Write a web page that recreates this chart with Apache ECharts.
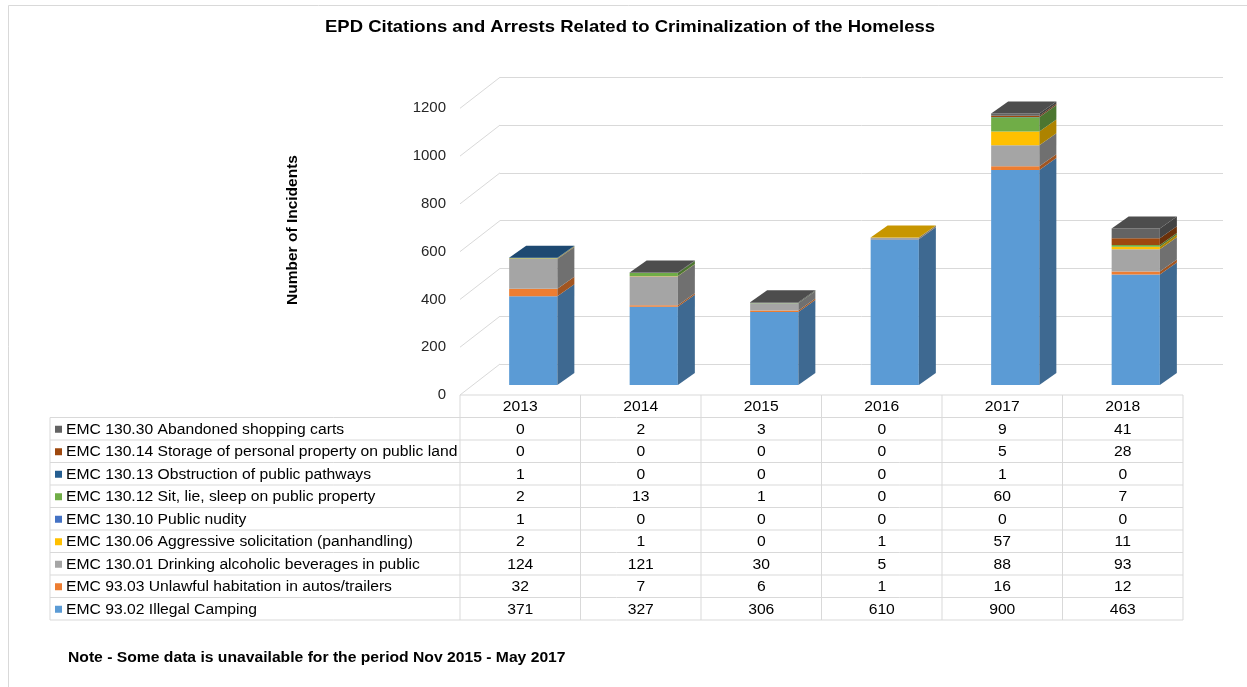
<!DOCTYPE html>
<html>
<head>
<meta charset="utf-8">
<script src="https://cdn.jsdelivr.net/npm/echarts@6/dist/echarts.min.js"></script>
<style>
  html, body { margin: 0; padding: 0; background: #fff; }
  #main { width: 1247px; height: 687px; }
</style>
</head>
<body>
<div id="main"></div>
<script>
// categories (years)
var years = ['2013', '2014', '2015', '2016', '2017', '2018'];

// series values, bottom of the stack first
var camping     = [371, 327, 306, 610, 900, 463];
var unlawful    = [32, 7, 6, 1, 16, 12];
var drinking    = [124, 121, 30, 5, 88, 93];
var aggressive  = [2, 1, 0, 1, 57, 11];
var nudity      = [1, 0, 0, 0, 0, 0];
var sitLie      = [2, 13, 1, 0, 60, 7];
var obstruction = [1, 0, 0, 0, 1, 0];
var storage     = [0, 0, 0, 0, 5, 28];
var carts       = [0, 2, 3, 0, 9, 41];

var seriesNames = [
    'EMC 93.02 Illegal Camping',
    'EMC 93.03 Unlawful habitation in autos/trailers',
    'EMC 130.01 Drinking alcoholic beverages in public',
    'EMC 130.06 Aggressive solicitation (panhandling)',
    'EMC 130.10 Public nudity',
    'EMC 130.12 Sit, lie, sleep on public property',
    'EMC 130.13 Obstruction of public pathways',
    'EMC 130.14 Storage of personal property on public land',
    'EMC 130.30 Abandoned shopping carts'
];
var seriesValues = [camping, unlawful, drinking, aggressive, nudity, sitLie, obstruction, storage, carts];

// y axis ticks
var yTicks = [0, 200, 400, 600, 800, 1000, 1200];

// colours (same order as the series)
var colors = ['#5B9BD5', '#ED7D31', '#A5A5A5', '#FFC000', '#4472C4', '#70AD47', '#255E91', '#9E480E', '#636363'];

function shade(hex, f) {
    var n = parseInt(hex.slice(1), 16);
    var r = Math.round(((n >> 16) & 255) * f);
    var g = Math.round(((n >> 8) & 255) * f);
    var b = Math.round((n & 255) * f);
    return 'rgb(' + r + ',' + g + ',' + b + ')';
}

// 3d look
var DEPTH_X = 40, DEPTH_Y = 31;         // depth of the plot box
var BAR_SHIFT_X = 13, BAR_SHIFT_Y = 10; // bar front sits a bit back
var BAR_DX = 17, BAR_DY = 12;           // bar depth
var BAR_RATIO = 0.4;

// grid geometry
var GRID_LEFT = 460, GRID_WIDTH = 723, GRID_TOP = 108.3, GRID_HEIGHT = 286.7;

// text in the picture is a little stretched sideways
var STRETCH = 1.12;

// topmost non-zero series for each year (its top face is visible)
var topIndex = years.map(function (y, i) {
    var t = 0;
    seriesValues.forEach(function (vals, s) { if (vals[i] > 0) t = s; });
    return t;
});

// build stacked segments
var running = years.map(function () { return 0; });
var barSeries = seriesValues.map(function (vals, s) {
    var data = [];
    vals.forEach(function (v, i) {
        var lo = running[i];
        running[i] += v;
        if (v > 0) data.push([i, lo, lo + v, topIndex[i] === s ? 1 : 0]);
    });
    var front = colors[s], side = shade(colors[s], 0.68), top = shade(colors[s], 0.78);
    return {
        name: seriesNames[s],
        type: 'custom',
        xAxisIndex: 0,
        yAxisIndex: 0,
        z: 5,
        silent: true,
        encode: { x: 0, y: [1, 2] },
        data: data,
        renderItem: function (params, api) {
            var i = api.value(0);
            var a = api.coord([i, api.value(1)]);
            var b = api.coord([i, api.value(2)]);
            var band = api.size([1, 0])[0];
            var w = band * BAR_RATIO;
            var cx = a[0] + BAR_SHIFT_X;
            var xl = cx - w / 2, xr = cx + w / 2;
            var yb = a[1] - BAR_SHIFT_Y, yt = b[1] - BAR_SHIFT_Y;
            var children = [
                { type: 'rect', shape: { x: xl, y: yt, width: w, height: yb - yt }, style: { fill: front } },
                { type: 'polygon', shape: { points: [[xr, yt], [xr + BAR_DX, yt - BAR_DY], [xr + BAR_DX, yb - BAR_DY], [xr, yb]] }, style: { fill: side } }
            ];
            if (api.value(3) === 1) {
                children.push({ type: 'polygon', shape: { points: [[xl, yt], [xl + BAR_DX, yt - BAR_DY], [xr + BAR_DX, yt - BAR_DY], [xr, yt]] }, style: { fill: top } });
            }
            return { type: 'group', children: children };
        }
    };
});

// diagonal lines of the left side wall
var wallSeries = {
    type: 'custom',
    xAxisIndex: 0,
    yAxisIndex: 0,
    z: 1,
    silent: true,
    encode: { x: 0, y: 1 },
    data: yTicks.map(function (v) { return [0, v]; }),
    renderItem: function (params, api) {
        var p = api.coord([0, api.value(1)]);
        var left = p[0] - api.size([1, 0])[0] / 2;
        return {
            type: 'line',
            shape: { x1: left, y1: p[1], x2: left + DEPTH_X, y2: p[1] - DEPTH_Y },
            style: { stroke: '#d9d9d9', lineWidth: 1 }
        };
    }
};

var chart = echarts.init(document.getElementById('main'));
var font = '"Liberation Sans", Arial, sans-serif';

chart.setOption({
    animation: false,
    backgroundColor: '#fff',
    textStyle: { fontFamily: font },
    grid: [
        { left: GRID_LEFT, top: GRID_TOP, width: GRID_WIDTH, height: GRID_HEIGHT, outerBoundsMode: 'none' },
        { left: GRID_LEFT + DEPTH_X, top: GRID_TOP - DEPTH_Y, width: GRID_WIDTH, height: GRID_HEIGHT, outerBoundsMode: 'none' }
    ],
    xAxis: [
        { type: 'category', gridIndex: 0, data: years, show: false },
        { type: 'category', gridIndex: 1, data: years, show: false }
    ],
    yAxis: [
        {
            type: 'value', gridIndex: 0, min: 0, max: 1200, interval: 200,
            axisLine: { show: false },
            axisTick: { show: false },
            splitLine: { show: false },
            axisLabel: {
                margin: 14, fontSize: 15, color: '#262626', fontFamily: font,
                formatter: function (v) { return String(v); }
            }
        },
        {
            type: 'value', gridIndex: 1, min: 0, max: 1200, interval: 200,
            axisLine: { show: false },
            axisTick: { show: false },
            axisLabel: { show: false },
            splitLine: { show: true, lineStyle: { color: '#d9d9d9', width: 1 } }
        }
    ],
    series: [wallSeries].concat(barSeries)
});

// data table under the chart, columns follow the category axis
var xs = years.map(function (y, i) { return chart.convertToPixel({ xAxisIndex: 0 }, i); });
var band = xs[1] - xs[0];
var TABLE_LEFT = 50, HEADER_TOP = 395, ROW_H = 22.5;
var labelRight = xs[0] - band / 2;
var tableRight = xs[xs.length - 1] + band / 2;
var rowsTop = HEADER_TOP + ROW_H;
var nRows = seriesValues.length;
var tableBottom = rowsTop + nRows * ROW_H;
var lineStyle = { stroke: '#d9d9d9', lineWidth: 1 };

var g = [];
function hline(x1, x2, y) {
    g.push({ type: 'line', silent: true, shape: { x1: x1, y1: y, x2: x2, y2: y }, style: lineStyle });
}
function vline(x, y1, y2) {
    g.push({ type: 'line', silent: true, shape: { x1: x, y1: y1, x2: x, y2: y2 }, style: lineStyle });
}
function text(str, x, y, f, align, rot) {
    g.push({ type: 'text', silent: true, x: x, y: y, scaleX: rot ? 1 : STRETCH, rotation: rot || 0,
        style: { text: str, fill: '#000', font: f, textAlign: align || 'left', textVerticalAlign: 'middle' } });
}

// outer chart-area border
g.push({ type: 'rect', silent: true, shape: { x: 8.5, y: 5.5, width: 1300, height: 800 }, style: { fill: 'none', stroke: '#d9d9d9', lineWidth: 1 } });

// title and axis name
text('EPD Citations and Arrests Related to Criminalization of the Homeless', 630, 27, 'bold 16.5px ' + font, 'center');
text('Number of Incidents', 293, 230, 'bold 15.5px ' + font, 'center', Math.PI / 2);

hline(labelRight, tableRight, HEADER_TOP);
for (var r = 0; r <= nRows; r++) hline(TABLE_LEFT, tableRight, rowsTop + r * ROW_H);
vline(TABLE_LEFT, rowsTop, tableBottom);
for (var c = 0; c <= years.length; c++) vline(labelRight + c * band, HEADER_TOP, tableBottom);

years.forEach(function (y, i) {
    text(y, xs[i], HEADER_TOP + ROW_H / 2 + 1, '14px ' + font, 'center');
});

// rows: top row is the last series in the stack
for (var k = 0; k < nRows; k++) {
    var s = nRows - 1 - k;
    var cy = rowsTop + k * ROW_H + ROW_H / 2 + 1;
    g.push({ type: 'rect', silent: true, shape: { x: 55, y: cy - 4, width: 7, height: 7 }, style: { fill: colors[s] } });
    text(seriesNames[s], 66, cy, '14px ' + font, 'left');
    seriesValues[s].forEach(function (v, i) {
        text(String(v), xs[i], cy, '14px ' + font, 'center');
    });
}

text('Note - Some data is unavailable for the period Nov 2015 - May 2017', 68, 658, 'bold 14px ' + font, 'left');

chart.setOption({ graphic: { elements: g } });
</script>
</body>
</html>
